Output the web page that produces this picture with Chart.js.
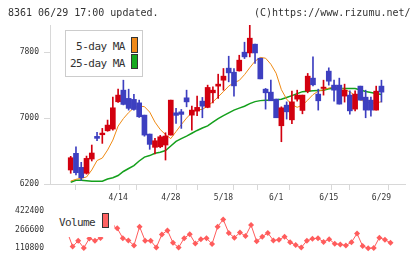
<!DOCTYPE html>
<html>
<head>
<meta charset="utf-8">
<script src="https://cdn.jsdelivr.net/npm/chart.js@4.4.1/dist/chart.umd.min.js"></script>
<style>
body { margin: 0; background: #fff; width: 420px; height: 259px; overflow: hidden; position: relative; font-family: "DejaVu Sans Mono", monospace; color: #333; }
.t { position: absolute; font-size: 10px; line-height: 10px; white-space: nowrap; }
#c1 { position: absolute; left: 0; top: 0; }
#c2 { position: absolute; left: 0; top: 200px; }
#lg { position: absolute; left: 65px; top: 30px; width: 76px; height: 45px; border: 1px solid #ccc; background: #fff; }
.lt { position: absolute; font-size: 11px; line-height: 11px; letter-spacing: -0.5px; white-space: nowrap; }
.sw { position: absolute; width: 5px; border: 1px solid #333; }
#vlg { position: absolute; left: 56px; top: 203px; width: 58px; height: 34px; background: #fff; }
</style>
</head>
<body>
<canvas id="c1" width="420" height="205"></canvas>
<canvas id="c2" width="420" height="59"></canvas>

<div class="t" style="left:8px; top:8px;">8361 06/29 17:00 updated.</div>
<div class="t" style="left:254px; top:8px;">(C)https://www.rizumu.net/</div>

<div id="lg">
  <div class="lt" style="right:17px; top:10px;">5-day MA</div>
  <div class="lt" style="right:17px; top:27px;">25-day MA</div>
  <div class="sw" style="left:65px; top:6px; height:14px; background:#f08a1a;"></div>
  <div class="sw" style="left:65px; top:23px; height:13px; background:#16a81e;"></div>
</div>

<div id="vlg">
  <div class="lt" style="left:3px; top:14px; letter-spacing:-0.6px;">Volume</div>
  <div class="sw" style="left:46px; top:10px; height:13px; background:#ff6262;"></div>
</div>

<script>
// trading days 2021/4/1 - 6/29
const dates = ['4/1','4/2','4/5','4/6','4/7','4/8','4/9','4/12','4/13','4/14',
  '4/15','4/16','4/19','4/20','4/21','4/22','4/23','4/26','4/27','4/28',
  '4/30','5/6','5/7','5/10','5/11','5/12','5/13','5/14','5/17','5/18',
  '5/19','5/20','5/21','5/24','5/25','5/26','5/27','5/28','5/31','6/1',
  '6/2','6/3','6/4','6/7','6/8','6/9','6/10','6/11','6/14','6/15',
  '6/16','6/17','6/18','6/21','6/22','6/23','6/24','6/25','6/28','6/29']
const tickIdx = [9, 19, 29, 39, 49, 59]

const opens = [6370,6572,6402,6330,6503,6778,6798,6846,6867,7198,7339,7239,7227,7185,7036,6806,6645,6652,6673,6794,
  7064,7076,7246,7036,7085,7206,7130,7307,7388,7460,7606,7557,7573,7800,7791,7897,7727,7351,7315,7230,
  6907,7157,6979,7230,7093,7327,7485,7291,7360,7570,7400,7400,7267,7279,7109,7388,7254,7218,7097,7388]
const highs = [6536,6652,6463,6539,6673,6827,6875,6976,7254,7351,7460,7351,7287,7218,7036,6806,6754,6790,6822,7218,
  7118,7105,7339,7145,7267,7251,7400,7379,7533,7602,7751,7602,7763,7921,8127,7897,7727,7360,7460,7230,
  7137,7197,7327,7339,7279,7542,7743,7351,7460,7610,7460,7485,7412,7331,7331,7388,7339,7254,7388,7460]
const lows = [6330,6309,6245,6320,6479,6725,6693,6840,6854,7190,7160,7097,7097,7008,6780,6621,6564,6640,6491,6794,
  6936,6875,7137,6854,7030,7004,7125,7185,7239,7339,7440,7267,7570,7723,7743,7663,7476,7109,7210,7004,
  6713,6988,6931,7206,7052,7307,7391,7097,7279,7400,7206,7170,7194,7048,7088,7218,7004,7024,7097,7194]
const closes = [6519,6337,6276,6511,6576,6754,6818,6915,7125,7279,7166,7118,7105,7016,6794,6681,6725,6773,6782,7218,
  7033,7045,7197,7097,7130,7145,7372,7339,7412,7509,7549,7391,7703,7743,7970,7791,7476,7307,7210,7004,
  7125,7076,7197,7279,7279,7509,7404,7210,7376,7448,7339,7170,7339,7088,7291,7218,7097,7097,7327,7315]

const ma5 = [6236,6257,6269,6285,6370,6485,6515,6612,6733,6903,6994,7067,7125,7145,7139,7073,6951,6861,6800,6751,
  6836,6921,7000,7067,7101,7105,7148,7197,7258,7321,7388,7430,7457,7527,7612,7691,7736,7727,7654,7545,
  7345,7230,7164,7131,7157,7218,7285,7327,7345,7364,7379,7366,7348,7319,7273,7222,7194,7182,7182,7200]
const ma25 = [6221,6245,6245,6239,6233,6233,6233,6261,6276,6303,6352,6388,6424,6479,6527,6545,6573,6585,6606,6661,
  6718,6751,6782,6816,6850,6879,6905,6951,6994,7030,7063,7097,7121,7144,7176,7200,7212,7218,7218,7223,
  7230,7251,7273,7297,7321,7327,7331,7336,7339,7357,7360,7360,7360,7360,7360,7342,7324,7311,7299,7287]

const volumes = [300000,251000,124000,173100,113000,192600,173100,196500,422400,300000,
  276700,194200,175500,134200,290000,173100,173100,116300,225300,258800,
  155200,116300,194200,227700,149800,186400,194200,146000,290000,350000,
  237800,198800,240900,212100,303200,167700,206600,237800,175500,180900,
  206600,159900,136500,116300,173100,188700,194200,163000,186400,147400,
  142000,134200,159900,233100,128700,110800,111600,198800,180900,155200]

const priceTicks = [6200, 7000, 7800]
const volTicks = [110800, 266600, 422400]

const up = '#d2000f'
const down = '#3d3fc0'
const axisCol = '#d8d8d8'
const xMin = -2.06
const xMax = 61.6

Chart.defaults.font.family = '"DejaVu Sans Mono", monospace'
Chart.defaults.font.size = 8
Chart.defaults.color = '#333'

const candleCol = opens.map((o, i) => closes[i] >= o ? up : down)
const pts = arr => arr.map((v, i) => ({ x: i, y: v }))

function xTicks(scale) {
    const t = []
    for (let k = 0; k <= 11; k++) t.push({ value: xMin + k * (xMax - xMin) / 11, g: true })
    tickIdx.forEach(i => t.push({ value: i, g: false }))
    t.sort((a, b) => a.value - b.value)
    scale.ticks = t
}

new Chart(document.getElementById('c1').getContext('2d'), {
    type: 'bar',
    data: {
        datasets: [{
            data: opens.map((o, i) => ({ x: i, y: [o, closes[i]] })),
            backgroundColor: candleCol,
            barThickness: 5,
            minBarLength: 1,
            grouped: false,
            borderWidth: 0,
            order: 1
        },
        {
            data: lows.map((l, i) => ({ x: i, y: [l, highs[i]] })),
            backgroundColor: candleCol,
            barThickness: 1,
            grouped: false,
            borderWidth: 0,
            order: 2
        },
        {
            type: 'line',
            data: pts(ma5),
            borderColor: '#ef8a14',
            borderWidth: 1,
            pointRadius: 0,
            order: 3
        },
        {
            type: 'line',
            data: pts(ma25),
            borderColor: '#14a01c',
            borderWidth: 1.5,
            pointRadius: 0,
            order: 4
        }]
    },
    options: {
        responsive: false,
        animation: false,
        devicePixelRatio: 1,
        layout: { padding: { left: 0, right: 15, top: 25, bottom: 0 } },
        plugins: { legend: { display: false }, tooltip: { enabled: false } },
        scales: {
            x: {
                type: 'linear',
                min: xMin,
                max: xMax,
                afterBuildTicks: xTicks,
                afterFit: s => { s.height = 21 },
                grid: {
                    drawOnChartArea: false,
                    tickLength: 6,
                    tickColor: c => (c.tick && c.tick.g) ? axisCol : 'rgba(0,0,0,0)'
                },
                border: { color: axisCol },
                ticks: {
                    autoSkip: false,
                    maxRotation: 0,
                    padding: 3,
                    callback: (v, i, ticks) => ticks[i].g ? '' : dates[ticks[i].value]
                }
            },
            y: {
                min: 6200,
                max: 8130,
                afterBuildTicks: s => { s.ticks = priceTicks.map(v => ({ value: v })) },
                afterFit: s => { s.width = 50 },
                grid: { drawOnChartArea: false, tickLength: 6, tickColor: axisCol },
                border: { color: axisCol },
                ticks: { padding: 5, callback: v => String(v) }
            }
        }
    }
})

new Chart(document.getElementById('c2').getContext('2d'), {
    type: 'line',
    data: {
        datasets: [{
            data: pts(volumes),
            borderColor: '#ff5c5c',
            borderWidth: 1,
            pointStyle: 'rectRot',
            pointRadius: 3,
            pointBackgroundColor: '#ff5c5c',
            pointBorderWidth: 0,
            clip: false
        }]
    },
    options: {
        responsive: false,
        animation: false,
        devicePixelRatio: 1,
        layout: { padding: { left: 0, right: 15, top: 9, bottom: 10 } },
        plugins: { legend: { display: false }, tooltip: { enabled: false } },
        scales: {
            x: { type: 'linear', min: xMin, max: xMax, display: false },
            y: {
                min: 110800,
                max: 422400,
                afterBuildTicks: s => { s.ticks = volTicks.map(v => ({ value: v })) },
                afterFit: s => { s.width = 50 },
                grid: { display: false, drawTicks: false },
                border: { display: false },
                ticks: { padding: 6, callback: v => String(v) }
            }
        }
    }
})
</script>
</body>
</html>
